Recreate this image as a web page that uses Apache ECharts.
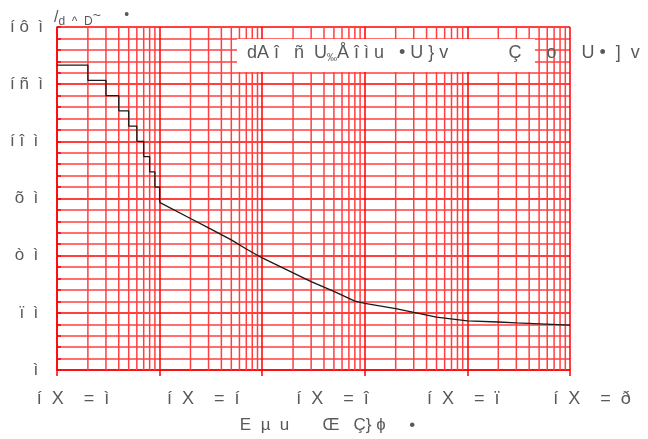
<!DOCTYPE html>
<html>
<head>
<meta charset="utf-8">
<script src="https://cdn.jsdelivr.net/npm/echarts@6/dist/echarts.min.js"></script>
<style>html,body{margin:0;padding:0;background:#fff}#c{width:648px;height:439px}</style>
</head>
<body>
<div id="c"></div>
<script>
// ---- data ----
const stepX = [1, 2, 3, 4, 5, 6, 7, 8, 9, 10];
const stepY = [160, 152, 144, 136, 128, 120, 112, 104, 96, 88];
const curveX = [10, 20, 30, 50, 70, 100, 200, 300, 500, 800, 1000, 2000, 3000, 5000, 10000, 20000, 30000, 100000];
const curveY = [88, 79.5, 74.6, 68.3, 63.5, 58.8, 51.0, 46.4, 41.3, 36.1, 35.0, 32.2, 30.2, 27.8, 25.8, 25.2, 24.7, 23.6];
const xTickLabels = ['í  X    =  ì', 'í  X    =  í', 'í  X    =  î', 'í  X    =  ï', 'í  X    =  ð'];
const yTickLabels = {0: 'ì ', 30: 'ï  ì ', 60: 'ò  ì ', 90: 'õ  ì ', 120: 'í î  ì ', 150: 'í ñ  ì', 180: 'í ô  ì'};
const xAxisTitle = 'E  µ  u       Œ   Ç} ɸ     •';
const boxTitleParts = ['dA î   ñ  U', '‰', 'Å î ì u   • U } v            Ç     o     U •  ]  v'];
const yAxisTitleParts = ['/', 'd  ^  D', '~', '•'];

// minor log grid positions (2..9 in each decade)
const minorX = [];
for (let d = 0; d < 5; d++) for (let k = 2; k <= 9; k++) minorX.push(k * Math.pow(10, d));

const gridColor = '#ff0000';
const minorColor = '#ff4040';
const lw = 1.5;
const textColor = '#595959';
const font = 'Liberation Sans, Arial, sans-serif';
const labelShift = [32, 36, 38, 43, 44];
const richX = {};
labelShift.forEach((p, i) => { richX['l' + i] = {fontSize: 18, fontFamily: font, color: textColor, padding: [0, 0, 0, p]}; });

const chart = echarts.init(document.getElementById('c'));
chart.setOption({
  animation: false,
  backgroundColor: '#fff',
  grid: {left: 57, right: 78, top: 27, bottom: 61, containLabel: false},
  xAxis: [{
    type: 'log', logBase: 10, min: 1, max: 100000,
    axisLine: {show: true, lineStyle: {color: gridColor, width: lw}},
    axisTick: {show: true, length: 6, lineStyle: {color: gridColor, width: lw}},
    axisLabel: {show: false},
    splitLine: {show: true, lineStyle: {color: gridColor, width: lw}},
    name: xAxisTitle, nameLocation: 'middle', nameGap: 47,
    nameTextStyle: {color: textColor, fontSize: 17, fontFamily: font, padding: [0, 0, 0, 28]}
  }, {
    type: 'value', min: 0, max: 4, interval: 1, position: 'bottom',
    axisLine: {show: false}, axisTick: {show: false}, splitLine: {show: false},
    axisLabel: {color: textColor, fontSize: 18, fontFamily: font, margin: 20,
      formatter: v => '{l' + v + '|' + xTickLabels[v] + '}', rich: richX}
  }],
  yAxis: {
    type: 'value', min: 0, max: 180, interval: 30,
    axisLine: {show: true, lineStyle: {color: gridColor, width: lw}},
    axisTick: {show: true, inside: true, length: 4, lineStyle: {color: gridColor, width: lw}},
    minorTick: {show: true, splitNumber: 5, length: 4, lineStyle: {color: gridColor, width: lw}},
    axisLabel: {color: textColor, fontSize: 17, fontFamily: font, margin: 14,
      formatter: v => yTickLabels[v]},
    splitLine: {show: true, lineStyle: {color: gridColor, width: lw}},
    minorSplitLine: {show: true, lineStyle: {color: minorColor, width: lw}}
  },
  series: [{
    type: 'custom', xAxisIndex: 0, silent: true, z: 1,
    data: minorX.map(v => [v]),
    encode: {x: 0},
    renderItem: function (params, api) {
      const v = api.value(0);
      const p0 = api.coord([v, 0]);
      const p1 = api.coord([v, 180]);
      return {
        type: 'line',
        shape: {x1: p0[0], y1: p0[1], x2: p1[0], y2: p1[1]},
        style: {stroke: minorColor, lineWidth: lw}
      };
    }
  }, {
    type: 'line', xAxisIndex: 0, step: 'end', symbol: 'none',
    data: stepX.map((x, i) => [x, stepY[i]]),
    color: '#1a1a1a',
    lineStyle: {color: '#1a1a1a', width: 1.3}, z: 5
  }, {
    type: 'line', xAxisIndex: 0, symbol: 'none',
    data: curveX.map((x, i) => [x, curveY[i]]),
    color: '#1a1a1a',
    lineStyle: {color: '#1a1a1a', width: 1.3}, z: 5
  }],
  graphic: [{
    type: 'rect', left: 237, top: 39, z: 20,
    shape: {width: 298, height: 33}, style: {fill: '#fff'}
  }, {
    type: 'text', left: 247, top: 44, z: 21,
    style: {
      text: boxTitleParts[0] + '{s|' + boxTitleParts[1] + '}' + boxTitleParts[2],
      fontSize: 18, fill: textColor, fontFamily: font,
      rich: {
        s: {fontSize: 10, fill: textColor, fontFamily: font, padding: [10, 0, 0, 0]}
      }
    }
  }, {
    type: 'text', left: 54, top: 8, z: 21,
    style: {
      text: '{b|' + yAxisTitleParts[0] + '}{c|' + yAxisTitleParts[1] + '}{t|' + yAxisTitleParts[2] + '}{c|       }{d|' + yAxisTitleParts[3] + '}',
      rich: {
        b: {fontSize: 16, fill: textColor, fontFamily: font},
        c: {fontSize: 12, fill: textColor, fontFamily: font, padding: [8, 0, 0, 0]},
        t: {fontSize: 14, fill: textColor, fontFamily: font, padding: [0, 0, 4, 0]},
        d: {fontSize: 14, fill: textColor, fontFamily: font, padding: [0, 0, 6, 0]}
      }
    }
  }]
});
</script>
</body>
</html>
